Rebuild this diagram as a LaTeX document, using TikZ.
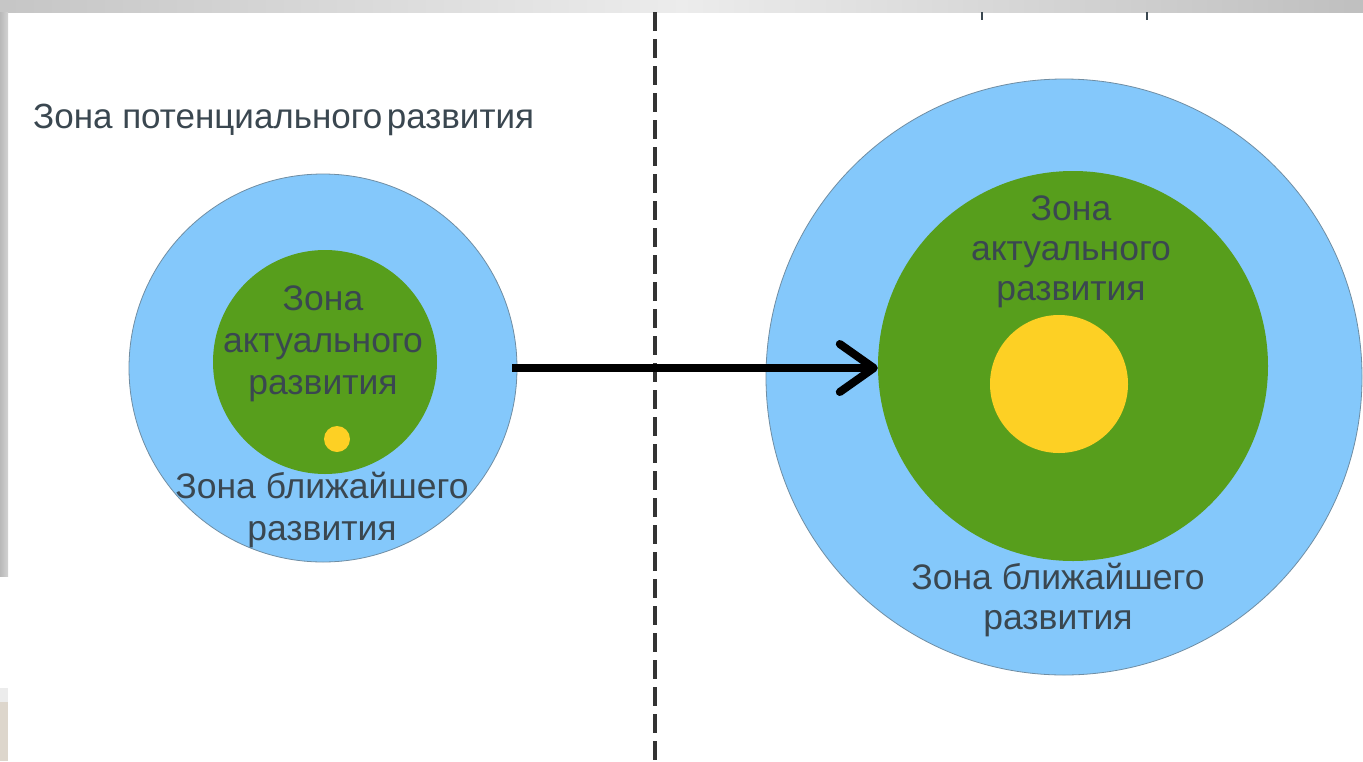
\documentclass[tikz,border=0pt]{standalone}
\usepackage{fontspec}
\setmainfont{Liberation Sans}
\usetikzlibrary{arrows.meta}
\definecolor{sky}{HTML}{84C8FB}
\definecolor{grass}{HTML}{579E1C}
\definecolor{sun}{HTML}{FDD024}
\definecolor{rimc}{HTML}{6F8DA3}
\definecolor{txt}{HTML}{3A4750}
\definecolor{beige}{HTML}{DDD6CC}
\begin{document}
\begin{tikzpicture}[x=1pt,y=-1pt,
  zone/.style={circle,inner sep=0pt,draw=rimc,line width=0.8pt},
  outerzone/.style={zone,fill=sky},
  actzone/.style={circle,inner sep=0pt,fill=grass},
  dot/.style={circle,inner sep=0pt,fill=sun},
  label/.style={text=txt,align=center,inner sep=0pt},
  bigfont/.style={font=\fontsize{35.5}{42}\selectfont},
  rfont/.style={font=\fontsize{35.5}{40}\selectfont}]
\useasboundingbox (0,0) rectangle (1363,761);
\fill[white] (0,0) rectangle (1363,761);
% screenshot frame remnants
\shade[left color=gray!45,right color=gray!15] (0,0) rectangle (682,12);
\shade[left color=gray!15,right color=gray!50] (682,0) rectangle (1363,12);
\shade[left color=gray!55,right color=gray!35] (0,12) rectangle (8,576);
\fill[gray!15] (0,688) rectangle (8,702);
\fill[beige] (0,702) rectangle (8,761);
\fill[txt] (981,12) rectangle (983,20);
\fill[txt] (1146,12) rectangle (1148,20);
% divider
\coordinate (divtop) at (655,12);
\coordinate (divbot) at (655,761);
\draw[line width=4.5pt,color=black!80,dash pattern=on 19pt off 8pt] (divtop) -- (divbot);
% title
\node[label,anchor=west,font=\fontsize{35}{40}\selectfont] (title) at (33,120) {Зона потенциального\hspace{-0.15em} развития};
% left diagram
\node[outerzone,minimum size=388pt] (bigL) at (323,368) {};
\node[actzone,minimum size=224pt] (greenL) at (325,362) {};
\node[dot,minimum size=26pt] (dotL) at (337,439) {};
\node[label,bigfont] (actL) at (323,344) {Зона\\актуального\\развития};
\node[label,bigfont] (nearL) at (322,510) {Зона ближайшего\\развития};
% right diagram
\node[outerzone,minimum size=596pt] (bigR) at (1064,377) {};
\node[actzone,minimum size=390pt] (greenR) at (1073,366) {};
\node[dot,minimum size=138pt] (dotR) at (1059,384) {};
\node[label,rfont] (actR) at (1071,252) {Зона\\актуального\\развития};
\node[label,rfont] (nearR) at (1058,600) {Зона ближайшего\\развития};
% arrow
\draw[line width=8pt,-{Straight Barb[length=34pt,width=48pt,round]},shorten <=-5pt] (bigL.east) -- (bigL.east -| greenR.west);
\end{tikzpicture}
\end{document}
